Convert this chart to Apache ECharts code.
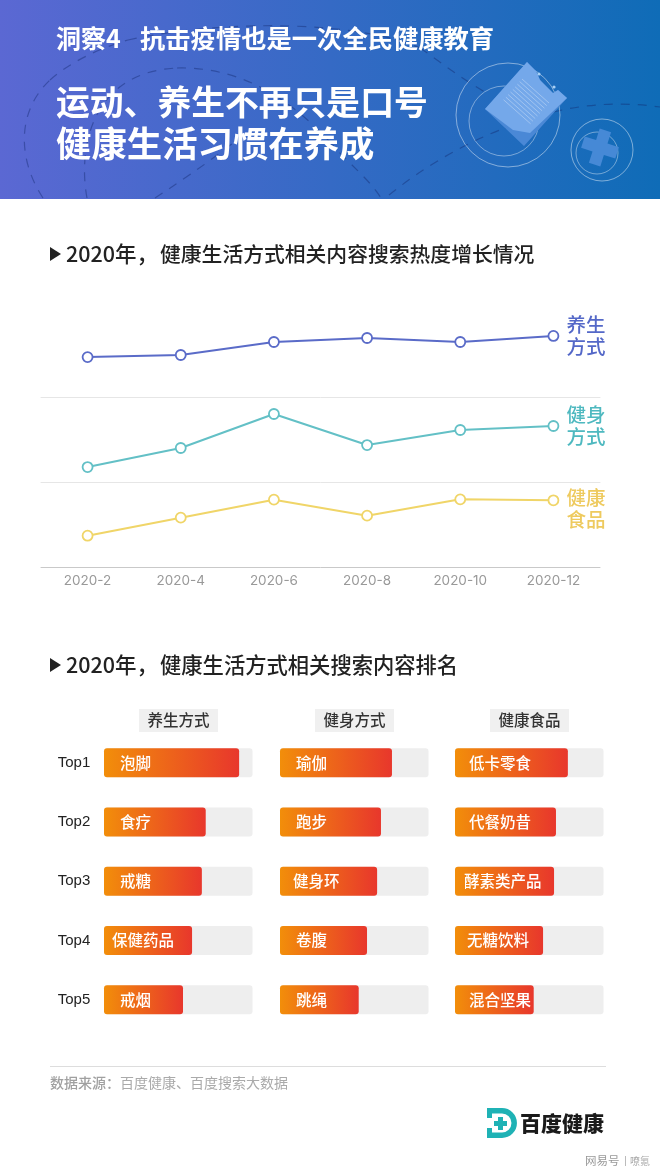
<!DOCTYPE html>
<html>
<head>
<meta charset="utf-8">
<script src="https://cdn.jsdelivr.net/npm/echarts@6/dist/echarts.min.js"></script>
<style>
html, body { margin: 0; padding: 0; background: #fff; }
#main { width: 660px; height: 1173px; }
</style>
</head>
<body>
<div id="main"></div>
<script>
let myChart = echarts.init(document.getElementById('main'));
const cjk = '"Noto Sans CJK SC", sans-serif';

const months = ['2020-2', '2020-4', '2020-6', '2020-8', '2020-10', '2020-12'];
const trends = [
    { name: '养生\n方式', top: 312, line: '#5a6bc8', text: '#5468c8', axis: '#e6e6e6', labelY: 0, data: [47, 49.4, 64.7, 69.4, 64.7, 71.8] },
    { name: '健身\n方式', top: 397, line: '#63c0c6', text: '#4fb9c0', axis: '#e6e6e6', labelY: 0, data: [17.6, 40, 80, 43.5, 61.2, 65.9] },
    { name: '健康\n食品', top: 482, line: '#f0d568', text: '#eeca5e', axis: '#c9c9c9', labelY: 8, data: [36.8, 58, 79.2, 60.4, 79.6, 78.5] }
];

// name, bar length (% of the track), label inset
const ranks = [
    { title: '养生方式', left: 104, items: [['泡脚', 91, 16], ['食疗', 68.5, 16], ['戒糖', 65.9, 16], ['保健药品', 59.3, 8], ['戒烟', 53.2, 16]] },
    { title: '健身方式', left: 280, items: [['瑜伽', 75.4, 16], ['跑步', 68, 16], ['健身环', 65.4, 13], ['卷腹', 58.6, 16], ['跳绳', 53, 16]] },
    { title: '健康食品', left: 455, items: [['低卡零食', 76, 14], ['代餐奶昔', 68, 14], ['酵素类产品', 66.7, 9], ['无糖饮料', 59.3, 12], ['混合坚果', 53, 14]] }
];
const tops = ['Top1', 'Top2', 'Top3', 'Top4', 'Top5'];

let grid = [], xAxis = [], yAxis = [], series = [];

trends.forEach((t, i) => {
    grid.push({ left: 41, width: 559, top: t.top, height: 85 });
    xAxis.push({
        type: 'category', gridIndex: i, data: months, boundaryGap: true,
        axisLine: { lineStyle: { color: t.axis, width: 1 } },
        axisTick: { alignWithLabel: true, length: 3, lineStyle: { color: t.axis } },
        axisLabel: { show: i === 2, color: '#999', fontSize: 13.5, margin: 7, interval: 0, fontFamily: 'Inter' }
    });
    yAxis.push({ type: 'value', gridIndex: i, min: 0, max: 100, show: false });
    series.push({
        type: 'line', xAxisIndex: i, yAxisIndex: i, data: t.data,
        symbol: 'circle', symbolSize: 10, showAllSymbol: true,
        lineStyle: { color: t.line, width: 2 },
        itemStyle: { color: '#fff', borderColor: t.line, borderWidth: 1.8 },
        endLabel: {
            show: true, formatter: t.name, color: t.text, fontSize: 19.5, lineHeight: 22,
            fontFamily: cjk, fontWeight: 500, distance: 13, offset: [0, t.labelY]
        }
    });
});

ranks.forEach((r, i) => {
    let g = i + 3;
    grid.push({ left: r.left, width: 148.5, top: 733, height: 296.5 });
    xAxis.push({ type: 'value', gridIndex: g, min: 0, max: 100, show: false });
    yAxis.push({
        type: 'category', gridIndex: g, data: tops, inverse: true,
        axisLine: { show: false }, axisTick: { show: false },
        axisLabel: { show: i === 0, color: '#222', fontSize: 15, align: 'center', margin: 30, fontFamily: 'Liberation Sans' }
    });
    series.push({
        type: 'bar', xAxisIndex: g, yAxisIndex: g, barWidth: 29,
        showBackground: true,
        backgroundStyle: { color: '#eeeeee', borderRadius: 3 },
        itemStyle: {
            borderRadius: 3,
            color: { type: 'linear', x: 0, y: 0, x2: 1, y2: 0, colorStops: [{ offset: 0, color: '#f28e0a' }, { offset: 1, color: '#e8372c' }] }
        },
        data: r.items.map(d => ({
            value: d[1], name: d[0],
            label: { show: true, position: 'insideLeft', distance: d[2], formatter: d[0], color: '#fff', fontSize: 15.5, fontWeight: 500, fontFamily: cjk }
        }))
    });
});

function text(x, y, str, size, color, weight, align) {
    return {
        type: 'text', x: x, y: y, z: 10,
        style: { text: str, fontSize: size, fill: color, fontWeight: weight || 'normal', fontFamily: cjk, align: align || 'left', verticalAlign: 'middle' }
    };
}
function dashed(x1, y1, cx1, cy1, cx2, cy2, x2, y2) {
    return {
        type: 'bezierCurve', z: 1,
        shape: { x1: x1, y1: y1, cpx1: cx1, cpy1: cy1, cpx2: cx2, cpy2: cy2, x2: x2, y2: y2 },
        style: { fill: null, stroke: 'rgba(20,40,110,0.42)', lineWidth: 1.2, lineDash: [9, 8] }
    };
}
function ring(cx, cy, rad, alpha) {
    return { type: 'circle', z: 2, shape: { cx: cx, cy: cy, r: rad }, style: { fill: null, stroke: 'rgba(255,255,255,' + alpha + ')', lineWidth: 1 } };
}
function poly(points, fill, z) {
    return { type: 'polygon', z: z || 3, shape: { points: points }, style: { fill: fill } };
}
function cross(cx, cy, L, W, ux, uy) {
    const p = (a, b) => [cx + a * ux - b * uy, cy + a * uy + b * ux];
    return poly([p(-L, -W), p(-W, -W), p(-W, -L), p(W, -L), p(W, -W), p(L, -W), p(L, W), p(W, W), p(W, L), p(-W, L), p(-W, W), p(-L, W)], '#4689d6', 4);
}

let graphic = [
    {
        type: 'rect', z: 0, shape: { x: 0, y: 0, width: 660, height: 199 },
        style: { fill: { type: 'linear', x: 0, y: 0, x2: 1, y2: 0, colorStops: [{ offset: 0, color: '#5b68d3' }, { offset: 1, color: '#0f6cb7' }] } }
    },
    dashed(43, 198, 18, 160, 16, 112, 50, 80),
    dashed(50, 80, 70, 62, 100, 48, 128, 40),
    dashed(128, 40, 230, 18, 360, 22, 420, 48),
    dashed(420, 48, 435, 58, 460, 78, 490, 95),
    dashed(87, 198, 78, 150, 90, 72, 177, 68),
    dashed(177, 68, 250, 66, 300, 110, 328, 140),
    dashed(328, 140, 350, 165, 370, 180, 381, 198),
    dashed(155, 198, 175, 185, 205, 165, 233, 143),
    dashed(389, 195, 420, 170, 460, 145, 505, 128),
    dashed(505, 128, 560, 105, 610, 100, 660, 107),
    ring(508, 115, 52, 0.45),
    ring(504, 121, 35, 0.4),
    ring(602, 150, 31, 0.45),
    ring(597, 153, 21, 0.4),
    // clipboard
    poly([[485, 109], [527, 62], [536, 71], [540, 80], [553, 93], [558, 90], [567, 98], [524, 146]], '#4a88d6'),
    poly([[485, 109], [527, 62], [536, 71], [540, 80], [553, 93], [558, 90], [567, 98], [530, 133], [513, 130]], '#74a8ea'),
    { type: 'circle', z: 4, shape: { cx: 539, cy: 74, r: 1.6 }, style: { fill: '#a8d0f5' } },
    { type: 'circle', z: 4, shape: { cx: 554, cy: 87, r: 1.6 }, style: { fill: '#a8d0f5' } },
    cross(600, 147.5, 18, 6, 0.95, 0.30),

    text(56, 38, '洞察4', 25, '#fff', 'bold'),
    text(140, 38, '抗击疫情也是一次全民健康教育', 25.3, '#fff', 'bold'),
    text(56, 102, '运动、养生不再只是口号', 33.8, '#fff', 'bold'),
    text(56, 144, '健康生活习惯在养成', 35.4, '#fff', 'bold'),

    poly([[50, 247], [61, 254], [50, 261]], '#222', 5),
    text(66, 254, '2020年，', 21.5, '#222', 500),
    text(160, 254, '健康生活方式相关内容搜索热度增长情况', 20.8, '#222', 500),
    poly([[50, 658], [61, 665], [50, 672]], '#222', 5),
    text(66, 665, '2020年，', 21.5, '#222', 500),
    text(160, 665, '健康生活方式相关搜索内容排名', 21.3, '#222', 500),

    { type: 'line', z: 5, shape: { x1: 50, y1: 1066.5, x2: 606, y2: 1066.5 }, style: { stroke: '#ddd', lineWidth: 1 } },
    text(50, 1083, '数据来源：', 14, '#a0a0a0', 500),
    text(120, 1083, '百度健康、百度搜索大数据', 14, '#aaa'),

    // logo
    { type: 'rect', z: 5, shape: { x: 487, y: 1108, width: 15, height: 5.5 }, style: { fill: '#1fb2b5' } },
    { type: 'rect', z: 5, shape: { x: 487, y: 1132.5, width: 15, height: 5.5 }, style: { fill: '#1fb2b5' } },
    { type: 'rect', z: 5, shape: { x: 487, y: 1108, width: 5, height: 10 }, style: { fill: '#1fb2b5' } },
    { type: 'rect', z: 5, shape: { x: 487, y: 1128, width: 5, height: 10 }, style: { fill: '#1fb2b5' } },
    { type: 'arc', z: 5, shape: { cx: 502, cy: 1123, r: 12.2, startAngle: -Math.PI / 2, endAngle: Math.PI / 2, clockwise: true }, style: { fill: null, stroke: '#1fb2b5', lineWidth: 5.5 } },
    { type: 'rect', z: 6, shape: { x: 498, y: 1117, width: 5, height: 13 }, style: { fill: '#1fb2b5' } },
    { type: 'rect', z: 6, shape: { x: 494, y: 1121, width: 13, height: 5 }, style: { fill: '#1fb2b5' } },
    text(520, 1123, '百度健康', 21, '#1a1a1a', 900),
    text(585, 1161, '网易号', 11.5, '#999'),
    { type: 'line', z: 5, shape: { x1: 625.5, y1: 1156, x2: 625.5, y2: 1166 }, style: { stroke: '#bbb', lineWidth: 1 } },
    text(630, 1161, '嘹氪', 10, '#aaa')
];

// paper stripes on the clipboard
for (let i = 0; i < 9; i++) {
    graphic.push({
        type: 'line', z: 4,
        shape: { x1: 522 - 2.3 * i, y1: 79 + 2.6 * i, x2: 549 - 2.3 * i, y2: 103 + 2.6 * i },
        style: { stroke: '#a5c6f0', lineWidth: 0.9 }
    });
}

ranks.forEach(r => {
    graphic.push({
        type: 'rect', z: 5, shape: { x: r.left + 35, y: 709, width: 79, height: 23 }, style: { fill: '#f0f0f0' }
    });
    graphic.push(text(r.left + 74.5, 720.5, r.title, 15.5, '#333', 500, 'center'));
});

let option = {
    animation: false,
    backgroundColor: '#fff',
    grid: grid,
    xAxis: xAxis,
    yAxis: yAxis,
    series: series,
    graphic: graphic
};

option && myChart.setOption(option);
</script>
</body>
</html>
